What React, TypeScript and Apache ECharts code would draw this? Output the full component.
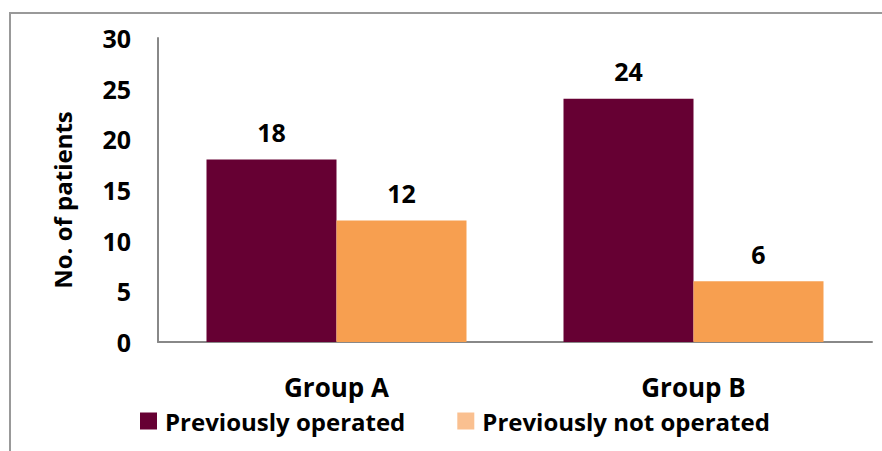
import React, { useEffect, useRef } from "react";
import * as echarts from "echarts";

const categories = ["Group A", "Group B"];
const seriesNames = ["Previously operated", "Previously not operated"];
const operated = [18, 24];
const notOperated = [12, 6];
const yTicks = [0, 5, 10, 15, 20, 25, 30];

const FONT = "Open Sans";

export default function App() {
  const ref = useRef<HTMLDivElement>(null);
  useEffect(() => {
    if (!ref.current) return;
    const chart = echarts.init(ref.current, null, { renderer: "svg" });
    chart.setOption({
      animation: false,
      backgroundColor: "#ffffff",
      textStyle: { fontFamily: FONT, fontWeight: "bold", color: "#000" },
      graphic: [
        {
          type: "rect",
          shape: { x: 10, y: 13, width: 1000, height: 1000 },
          style: { fill: "none", stroke: "#999999", lineWidth: 2 },
          silent: true,
        },
      ],
      grid: { left: 158, right: 10, top: 38, bottom: 109, containLabel: false },
      legend: {
        left: 135,
        top: 404,
        itemWidth: 17,
        itemHeight: 17,
        itemGap: 52,
        icon: "rect",
        textStyle: { fontFamily: FONT, fontWeight: "bold", fontSize: 24, color: "#000", padding: [0, 0, 0, 3] },
        data: [
          { name: seriesNames[0], itemStyle: { color: "#660033" } },
          { name: seriesNames[1], itemStyle: { color: "#FAC090" } },
        ],
      },
      xAxis: {
        type: "category",
        data: categories,
        axisLine: { lineStyle: { color: "#888888", width: 2 } },
        axisTick: { show: false },
        axisLabel: { fontFamily: FONT, fontWeight: "bold", fontSize: 26, color: "#000", margin: 32 },
      },
      yAxis: {
        type: "value",
        min: yTicks[0],
        max: yTicks[yTicks.length - 1],
        interval: 5,
        name: "No. of patients",
        nameLocation: "middle",
        nameGap: 84,
        nameRotate: 90,
        nameTextStyle: { fontFamily: FONT, fontWeight: "bold", fontSize: 24, color: "#000", padding: [0, 20, 0, 0] },
        axisLine: { show: true, lineStyle: { color: "#888888", width: 2 } },
        axisTick: { show: false },
        splitLine: { show: false },
        axisLabel: { fontFamily: FONT, fontWeight: "bold", fontSize: 25, color: "#000", margin: 27 },
      },
      series: [
        {
          name: seriesNames[0],
          type: "bar",
          data: operated,
          barWidth: 130,
          barGap: "0%",
          itemStyle: { color: "#660033" },
          label: { show: true, position: "top", distance: 15, fontFamily: FONT, fontWeight: "bold", fontSize: 25, color: "#000" },
        },
        {
          name: seriesNames[1],
          type: "bar",
          data: notOperated,
          barWidth: 130,
          barGap: "0%",
          itemStyle: { color: "#F79F50" },
          label: { show: true, position: "top", distance: 15, fontFamily: FONT, fontWeight: "bold", fontSize: 25, color: "#000" },
        },
      ],
    });
    return () => chart.dispose();
  }, []);
  return (
    <div
      ref={ref}
      style={{ position: "fixed", left: 0, top: 0, width: 882, height: 451 }}
    />
  );
}
